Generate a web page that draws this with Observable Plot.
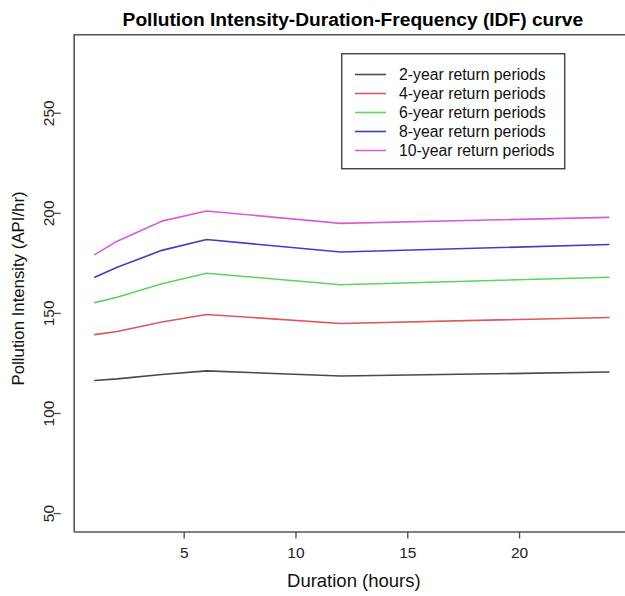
<!DOCTYPE html>
<html>
<head>
<meta charset="utf-8">
<script src="https://cdn.jsdelivr.net/npm/d3@7"></script>
<script src="https://cdn.jsdelivr.net/npm/@observablehq/plot@0.6"></script>
<style>
  html, body { margin: 0; padding: 0; background: #fff; }
  #wrap { position: relative; width: 625px; height: 596px; font-family: "Liberation Sans", Arial, sans-serif; }
  #legend { position: absolute; left: 340.5px; top: 53px; }
</style>
</head>
<body>
<div id="wrap"></div>
<script>
// ---- data ----
const durations = [1, 2, 4, 6, 12, 24];
const seriesNames = ["2-year return periods", "4-year return periods", "6-year return periods", "8-year return periods", "10-year return periods"];
const seriesColors = ["#4a4a4a", "#d9595c", "#5fd25f", "#3f3fc4", "#d85bdc"];
const year2  = [116.5, 117.3, 119.5, 121.3, 118.7, 120.7];
const year4  = [139.4, 141.0, 145.7, 149.5, 145.0, 148.0];
const year6  = [155.4, 158.1, 164.8, 170.1, 164.3, 168.1];
const year8  = [168.1, 173.1, 181.5, 186.9, 180.7, 184.4];
const year10 = [179.4, 186.1, 196.1, 201.2, 195.0, 198.0];
const xTicks = [5, 10, 15, 20];
const yTicks = [50, 100, 150, 200, 250];
const xDomain = [0.08, 24.74];
const yDomain = [40.8, 289.2];
const titleText = "Pollution Intensity-Duration-Frequency (IDF) curve";
const xLabel = "Duration (hours)";
const yLabel = "Pollution Intensity (API/hr)";

const allSeries = [year2, year4, year6, year8, year10];
const table = [];
allSeries.forEach((vals, i) => vals.forEach((v, j) => table.push({series: seriesNames[i], duration: durations[j], value: v})));

const axisColor = "#555";
const font = "'Liberation Sans', Arial, sans-serif";
const chart = Plot.plot({
  width: 625,
  height: 596,
  marginLeft: 73.7,
  marginRight: 0,
  marginTop: 34.3,
  marginBottom: 64.5,
  style: { fontFamily: font, fontSize: "15.5px", color: "#222", background: "#fff", overflow: "visible" },
  x: { domain: xDomain },
  y: { domain: yDomain },
  color: { domain: seriesNames, range: seriesColors },
  marks: [
    Plot.line(table, { x: "duration", y: "value", z: "series", stroke: "series", strokeWidth: 1.6 }),
    Plot.ruleX([xDomain[0]], { stroke: axisColor, strokeWidth: 1.6 }),
    Plot.ruleY(yDomain, { stroke: axisColor, strokeWidth: 1.6 }),
    Plot.axisX({ ticks: xTicks, tickSize: 7, tickPadding: 8, stroke: axisColor, strokeWidth: 1.4, fill: "#222", fontSize: 15.5, label: null }),
    Plot.axisY({ ticks: yTicks, tickSize: 7, tickPadding: 0, tickRotate: -90, stroke: axisColor, strokeWidth: 1.4, fill: "#222", fontSize: 15.5, label: null, textAnchor: "middle", dx: -13 }),
    Plot.text([titleText], { frameAnchor: "top", dy: -15.3, dx: 3, lineAnchor: "middle", fontWeight: "bold", fontSize: 19.2, fill: "#000" }),
    Plot.text([xLabel], { frameAnchor: "bottom", dy: 49.5, dx: 4, lineAnchor: "middle", fontSize: 18.5, fill: "#111" }),
    Plot.text([yLabel], { frameAnchor: "left", dx: -55.5, dy: 5, rotate: -90, textAnchor: "middle", lineAnchor: "middle", fontSize: 16.8, fill: "#111" })
  ]
});

const wrap = document.getElementById("wrap");
wrap.appendChild(chart);

// legend (SVG box in the top-right of the panel)
const lw = 223, lh = 115;
const lsvg = d3.create("svg").attr("id", "legend").attr("width", lw + 2).attr("height", lh + 2)
  .style("font-family", font);
lsvg.append("rect").attr("x", 0.75).attr("y", 0.75).attr("width", lw).attr("height", lh)
  .attr("fill", "#fff").attr("stroke", "#333").attr("stroke-width", 1.3);
seriesNames.forEach((name, i) => {
  const cy = 21.5 + i * 19;
  lsvg.append("line").attr("x1", 14).attr("x2", 45).attr("y1", cy).attr("y2", cy)
    .attr("stroke", seriesColors[i]).attr("stroke-width", 1.6);
  lsvg.append("text").attr("x", 58).attr("y", cy).attr("dy", "0.35em")
    .attr("font-size", 15.8).attr("fill", "#111").text(name);
});
wrap.appendChild(lsvg.node());
</script>
</body>
</html>
